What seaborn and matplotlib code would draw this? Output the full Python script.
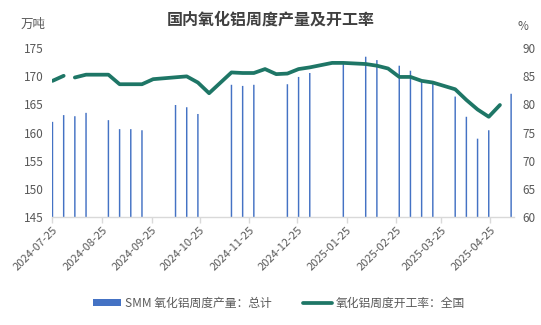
import matplotlib
matplotlib.use("Agg")
import matplotlib.pyplot as plt
import matplotlib.dates as mdates
import matplotlib.transforms as mtransforms
from matplotlib.patches import Patch
from matplotlib.lines import Line2D
import seaborn as sns
import pandas as pd
import numpy as np

# Weekly alumina output (10k tonnes)
output_dates = [
    "2024-07-25", "2024-08-01", "2024-08-08", "2024-08-15", "2024-08-29",
    "2024-09-05", "2024-09-12", "2024-09-19", "2024-10-10", "2024-10-17",
    "2024-10-24", "2024-11-14", "2024-11-21", "2024-11-28", "2024-12-19",
    "2024-12-26", "2025-01-02", "2025-01-23", "2025-02-06", "2025-02-13",
    "2025-02-27", "2025-03-06", "2025-03-13", "2025-03-20", "2025-04-03",
    "2025-04-10", "2025-04-17", "2025-04-24", "2025-05-08",
]
output_values = [
    161.9, 163.1, 162.9, 163.5, 162.2,
    160.6, 160.6, 160.4, 164.9, 164.5,
    163.3, 168.5, 168.3, 168.5, 168.6,
    169.9, 170.6, 172.4, 173.5, 172.9,
    171.9, 171.0, 169.0, 168.8, 166.4,
    162.8, 158.9, 160.4, 166.9,
]

# Weekly national operating rate (%); None marks a break in the series
rate_dates = [
    "2024-07-25", "2024-08-01", "2024-08-04", "2024-08-08", "2024-08-15",
    "2024-08-29", "2024-09-05", "2024-09-19", "2024-09-26", "2024-10-17",
    "2024-10-24", "2024-10-31", "2024-11-14", "2024-11-21", "2024-11-28",
    "2024-12-05", "2024-12-12", "2024-12-19", "2024-12-26", "2025-01-02",
    "2025-01-16", "2025-01-23", "2025-02-06", "2025-02-13", "2025-02-20",
    "2025-02-27", "2025-03-06", "2025-03-13", "2025-03-20", "2025-04-03",
    "2025-04-10", "2025-04-17", "2025-04-24", "2025-05-01",
]
rate_values = [
    84.2, 85.1, None, 84.8, 85.3,
    85.3, 83.6, 83.6, 84.5, 85.0,
    83.9, 82.0, 85.7, 85.6, 85.6,
    86.3, 85.4, 85.5, 86.3, 86.6,
    87.4, 87.4, 87.2, 86.9, 86.4,
    84.9, 84.9, 84.2, 83.9, 82.7,
    80.8, 79.1, 77.8, 79.9,
]

tick_labels = [
    "2024-07-25", "2024-08-25", "2024-09-25", "2024-10-25", "2024-11-25",
    "2024-12-25", "2025-01-25", "2025-02-25", "2025-03-25", "2025-04-25",
]

title = "国内氧化铝周度产量及开工率"
bar_label = "SMM 氧化铝周度产量：总计"
line_label = "氧化铝周度开工率：全国"

BAR_COLOR = "#4472C4"
LINE_COLOR = "#1E7666"
TEXT_COLOR = "#595959"

sns.set_theme(style="white")
plt.rcParams["font.family"] = ["Noto Sans CJK SC", "DejaVu Sans"]

out_df = pd.DataFrame({
    "x": mdates.date2num(pd.to_datetime(output_dates)),
    "output": output_values,
})
rate_df = pd.DataFrame({
    "x": mdates.date2num(pd.to_datetime(rate_dates)),
    "rate": pd.to_numeric(pd.Series(rate_values, dtype="float")),
})
rate_df["seg"] = rate_df["rate"].isna().cumsum()
rate_df = rate_df.dropna()

fig = plt.figure(figsize=(5.41, 3.25), dpi=100)
ax = fig.add_axes([52 / 541, 1 - 216.7 / 325, (514 - 52) / 541, (216.7 - 48.3) / 325])

sns.barplot(data=out_df, x="x", y="output", native_scale=True, width=0.13,
            color=BAR_COLOR, saturation=1, errorbar=None, linewidth=0, ax=ax)
for p in ax.patches:
    p.set_snap(False)

ax2 = ax.twinx()
sns.lineplot(data=rate_df, x="x", y="rate", units="seg", estimator=None,
             color=LINE_COLOR, linewidth=2.7, ax=ax2, legend=False)

x0 = mdates.date2num(pd.Timestamp("2024-07-25"))
ax.set_xlim(x0 - 0.3, x0 + 288.8)
ax.set_ylim(145, 175)
ax.set_yticks(np.arange(145, 176, 5))
ax2.set_ylim(60, 90)
ax2.set_yticks(np.arange(60, 91, 5))

tick_pos = mdates.date2num(pd.to_datetime(tick_labels))
ax.set_xticks(tick_pos)
ax.set_xticklabels(tick_labels, rotation=45, ha="right", rotation_mode="anchor")
shift = mtransforms.ScaledTranslation(4 / 100, -2 / 100, fig.dpi_scale_trans)
for lbl in ax.get_xticklabels():
    lbl.set_transform(lbl.get_transform() + shift)

for a in (ax, ax2):
    a.set_xlabel("")
    a.set_ylabel("")
    for s in ("top", "left", "right", "bottom"):
        a.spines[s].set_visible(False)
    a.grid(False)
ax.spines["bottom"].set_visible(True)
ax.spines["bottom"].set_color("#D9D9D9")
ax.spines["bottom"].set_linewidth(1.0)

ax.tick_params(axis="x", which="both", bottom=True, length=4, width=1.0,
               color="#D9D9D9", labelsize=8, labelcolor=TEXT_COLOR, pad=2)
ax.tick_params(axis="y", length=0, labelsize=8.5, labelcolor=TEXT_COLOR, pad=6)
ax2.tick_params(axis="y", length=0, labelsize=8.5, labelcolor=TEXT_COLOR, pad=6)
ax.set_zorder(1)
ax2.set_zorder(2)

fig.text(0.5, 1 - 19.7 / 325, title, ha="center", va="center",
         fontsize=11.5, fontweight="bold", color="#404040")
fig.text(33 / 541, 1 - 24 / 325, "万吨", ha="center", va="center",
         fontsize=9, color=TEXT_COLOR)
fig.text(523 / 541, 1 - 27 / 325, "%", ha="center", va="center",
         fontsize=8.5, color=TEXT_COLOR)

handles = [
    Patch(facecolor=BAR_COLOR, edgecolor="none"),
    Line2D([0], [0], color=LINE_COLOR, linewidth=2.7),
]
fig.legend(handles, [bar_label, line_label], loc="center",
           bbox_to_anchor=(0.515, 1 - 303 / 325), ncol=2, frameon=False,
           fontsize=8.5, labelcolor=TEXT_COLOR, handlelength=2.4,
           handleheight=0.6, handletextpad=0.3, columnspacing=2.7)

fig.savefig("out.png", dpi=100)
